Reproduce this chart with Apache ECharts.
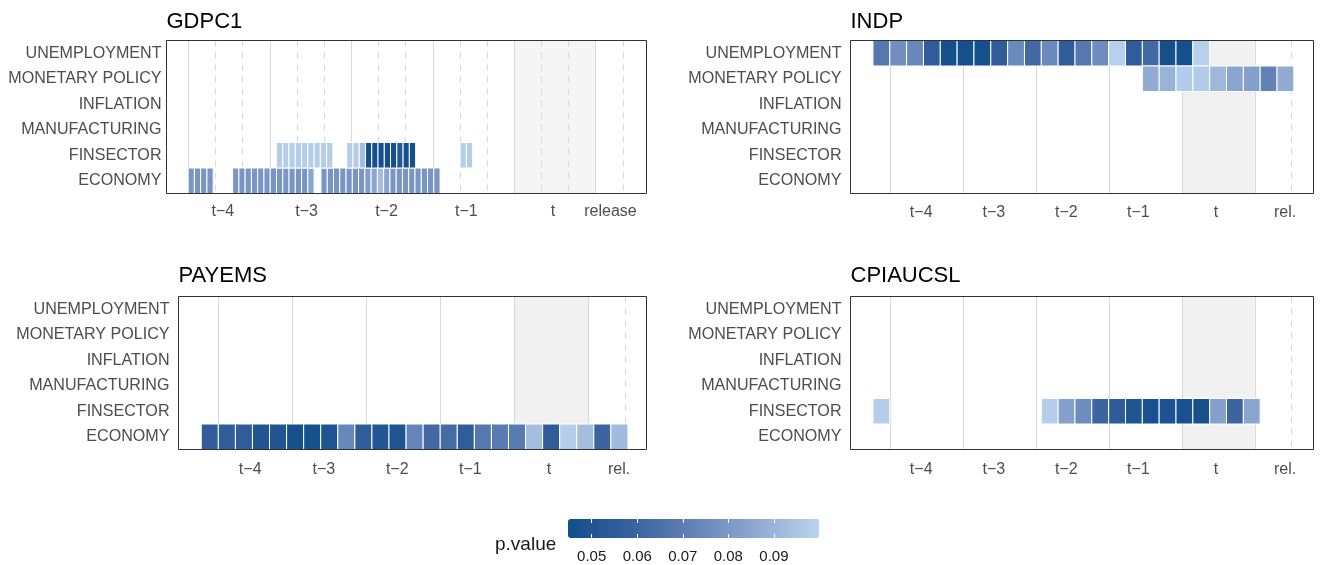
<!DOCTYPE html>
<html><head><meta charset="utf-8">
<script src="https://cdn.jsdelivr.net/npm/echarts@6/dist/echarts.min.js"></script>
<style>html,body{margin:0;padding:0;background:#fff}#chart{width:1325px;height:565px}</style>
</head><body><div id="chart"></div>
<script>
// ---------- DATA ----------
const rows = ['UNEMPLOYMENT', 'MONETARY POLICY', 'INFLATION', 'MANUFACTURING', 'FINSECTOR', 'ECONOMY'];
const panelNames = ['GDPC1', 'INDP', 'PAYEMS', 'CPIAUCSL'];
const periodLabels = ['t\u22124', 't\u22123', 't\u22122', 't\u22121', 't'];
const releaseLabelLong = 'release';
const releaseLabelShort = 'rel.';
// x axis unit = weeks from start of quarter t-4
const quarterLines = [0, 13, 26, 39, 52, 65];
const gdpMonthLines = [4.33, 8.67, 17.33, 21.67, 30.33, 34.67, 43.33, 47.67, 56.33, 60.67, 69.33];
const releaseLine = [71.5];
const currentQuarter = [52, 65];
const gdpLabelPos = [5.55, 18.9, 31.65, 44.4, 58.2, 67.4];
const otherLabelPos = [5.6, 18.55, 31.45, 44.3, 58.1, 70.45];

// GDPC1: weekly tiles
const gdpEconomyStarts = [0, 7.1, 21.2];
const gdpEconomyValues = [
  [0.079, 0.079, 0.079, 0.079],
  [0.079, 0.079, 0.079, 0.079, 0.079, 0.079, 0.079, 0.079, 0.079, 0.079, 0.079, 0.079, 0.085],
  [0.079, 0.079, 0.079, 0.079, 0.079, 0.079, 0.079, 0.082, 0.085, 0.093, 0.085, 0.079, 0.079, 0.079, 0.079, 0.079, 0.079, 0.079, 0.079]
];
const gdpFinStarts = [14.1, 25.3, 43.4];
const gdpFinValues = [
  [0.098, 0.098, 0.098, 0.098, 0.098, 0.098, 0.098, 0.098, 0.098],
  [0.098, 0.098, 0.093, 0.046, 0.046, 0.046, 0.046, 0.046, 0.052, 0.046, 0.046],
  [0.098, 0.098]
];
// INDP: 3-week tiles
const indpUnempStarts = [-3];
const indpUnempValues = [[0.068, 0.077, 0.074, 0.056, 0.046, 0.046, 0.046, 0.056, 0.075, 0.062,
  0.075, 0.056, 0.068, 0.076, 0.099, 0.056, 0.062, 0.046, 0.046, 0.099]];
const indpMonStarts = [45];
const indpMonValues = [[0.087, 0.090, 0.097, 0.097, 0.091, 0.085, 0.083, 0.072, 0.087]];
// PAYEMS
const payEconomyStarts = [-3];
const payEconomyValues = [[0.056, 0.056, 0.056, 0.050, 0.050, 0.046, 0.046, 0.049, 0.074, 0.056,
  0.051, 0.049, 0.073, 0.062, 0.063, 0.056, 0.068, 0.069, 0.069, 0.093, 0.056, 0.098, 0.093, 0.060, 0.092]];
// CPIAUCSL
const cpiFinStarts = [-3, 27];
const cpiFinValues = [[0.098], [0.098, 0.083, 0.076, 0.060, 0.055, 0.050, 0.047, 0.048, 0.047, 0.046, 0.083, 0.060, 0.085]];

// colour scale
const pMin = 0.0448, pMax = 0.0999;
const colorbarTicks = [0.05, 0.06, 0.07, 0.08, 0.09];
const scaleColors = ['#124E8C', '#37619D', '#6383B7', '#8EA8D1', '#BAD4EE'];

// ---------- LAYOUT ----------
const FONT = "'Liberation Sans', Arial, Helvetica, sans-serif";
const panels = [
  { name: panelNames[0], grid: { left: 166.5, top: 40.5, width: 480, height: 153 }, xmin: -3.45, xmax: 73.14, w: 1,
    runs: [{ row: 'ECONOMY', starts: gdpEconomyStarts, values: gdpEconomyValues }, { row: 'FINSECTOR', starts: gdpFinStarts, values: gdpFinValues }],
    dashed: gdpMonthLines, labelPos: gdpLabelPos, labels: periodLabels.concat([releaseLabelLong]), yMargin: 5, xMargin: 10, titleTop: 11 },
  { name: panelNames[1], grid: { left: 850.5, top: 40.5, width: 463, height: 153 }, xmin: -7, xmax: 75.5, w: 3,
    runs: [{ row: 'UNEMPLOYMENT', starts: indpUnempStarts, values: indpUnempValues }, { row: 'MONETARY POLICY', starts: indpMonStarts, values: indpMonValues }],
    dashed: releaseLine, labelPos: otherLabelPos, labels: periodLabels.concat([releaseLabelShort]), yMargin: 9, xMargin: 11.5, titleTop: 11 },
  { name: panelNames[2], grid: { left: 178.5, top: 296.5, width: 468, height: 153 }, xmin: -7, xmax: 75.26, w: 3,
    runs: [{ row: 'ECONOMY', starts: payEconomyStarts, values: payEconomyValues }],
    dashed: releaseLine, labelPos: otherLabelPos, labels: periodLabels.concat([releaseLabelShort]), yMargin: 9, xMargin: 12, titleTop: 265 },
  { name: panelNames[3], grid: { left: 850.5, top: 296.5, width: 463, height: 153 }, xmin: -7, xmax: 75.5, w: 3,
    runs: [{ row: 'FINSECTOR', starts: cpiFinStarts, values: cpiFinValues }],
    dashed: releaseLine, labelPos: otherLabelPos, labels: periodLabels.concat([releaseLabelShort]), yMargin: 9, xMargin: 12, titleTop: 265 }
];

function renderShade(params, api) {
  const cs = params.coordSys;
  const a = api.coord([api.value(0), 0])[0], b = api.coord([api.value(1), 0])[0];
  return { type: 'rect', silent: true, shape: { x: a, y: cs.y, width: b - a, height: cs.height }, style: { fill: api.value(2) === 1 ? '#F5F5F5' : '#F1F1F1' } };
}
function renderGuide(params, api) {
  const cs = params.coordSys;
  const x = Math.round(api.coord([api.value(0), 0])[0]) + 0.5;
  const dashed = api.value(1) === 1;
  return { type: 'line', silent: true, shape: { x1: x, y1: cs.y, x2: x, y2: cs.y + cs.height },
    style: { stroke: '#D9D9D9', lineWidth: 1.1, lineDash: dashed ? [6, 6] : null } };
}
function renderTile(params, api) {
  const row = api.value(2);
  const p0 = api.coord([api.value(0), row]);
  const p1 = api.coord([api.value(1), row]);
  const h = api.size([0, 1])[1];
  const rect = echarts.graphic.clipRectByRect({ x: p0[0], y: p0[1] - h / 2, width: p1[0] - p0[0], height: h }, params.coordSys);
  return rect && { type: 'rect', shape: rect, style: { fill: api.visual('color'), stroke: '#FFFFFF', lineWidth: 1 } };
}

const grids = [], xAxes = [], yAxes = [], series = [], titles = [], tileSeriesIdx = [];
panels.forEach((p, gi) => {
  grids.push(Object.assign({ show: true, borderColor: '#333333', borderWidth: 1, backgroundColor: 'transparent', z: 10 }, p.grid));
  xAxes.push({ type: 'value', gridIndex: gi, min: p.xmin, max: p.xmax, axisLine: { show: false }, axisTick: { show: false }, splitLine: { show: false },
    axisLabel: { customValues: p.labelPos, margin: p.xMargin, color: '#4D4D4D', fontSize: 16, fontFamily: FONT,
      formatter: (v) => { const i = p.labelPos.findIndex(q => Math.abs(q - v) < 1e-6); return i >= 0 ? p.labels[i] : ''; } } });
  yAxes.push({ type: 'category', gridIndex: gi, data: rows, inverse: true, axisLine: { show: false }, axisTick: { show: false }, splitLine: { show: false },
    axisLabel: { margin: p.yMargin, color: '#4D4D4D', fontSize: 16.1, fontFamily: FONT } });
  titles.push({ text: p.name, left: p.grid.left, top: p.titleTop, padding: 0, textStyle: { fontSize: 22, fontWeight: 'normal', color: '#000', fontFamily: FONT } });
  series.push({ type: 'custom', xAxisIndex: gi, yAxisIndex: gi, z: 1, silent: true, renderItem: renderShade,
    encode: { x: [0, 1] }, data: [[currentQuarter[0], currentQuarter[1], gi === 0 ? 1 : 0]] });
  const guides = quarterLines.map(x => [x, 0]).concat(p.dashed.map(x => [x, 1]));
  series.push({ type: 'custom', xAxisIndex: gi, yAxisIndex: gi, z: 2, silent: true, renderItem: renderGuide, encode: { x: 0 }, data: guides });
  const tiles = [];
  p.runs.forEach(r => {
    const ri = rows.indexOf(r.row);
    r.starts.forEach((s, k) => {
      r.values[k].forEach((v, i) => tiles.push([s + i * p.w, s + (i + 1) * p.w, ri, v]));
    });
  });
  tileSeriesIdx.push(series.length);
  series.push({ type: 'custom', name: p.name, xAxisIndex: gi, yAxisIndex: gi, z: 3, renderItem: renderTile,
    dimensions: ['x0', 'x1', 'row', 'p.value'], encode: { x: [0, 1], y: 2 }, data: tiles });
});

// colour bar axes (tick labels)
const cb = { left: 568, top: 519, width: 251, height: 19 };
grids.push(Object.assign({ show: false }, cb));
xAxes.push({ type: 'value', gridIndex: 4, min: pMin, max: pMax, z: 20, axisLine: { show: false }, splitLine: { show: false },
  axisTick: { show: true, inside: true, length: 4, customValues: colorbarTicks, lineStyle: { color: '#FFFFFF', width: 1 } },
  axisLabel: { customValues: colorbarTicks, margin: 11, fontSize: 15, color: '#1A1A1A', fontFamily: FONT, formatter: v => v.toFixed(2) } });
xAxes.push({ type: 'value', gridIndex: 4, position: 'top', min: pMin, max: pMax, z: 20, axisLine: { show: false }, splitLine: { show: false },
  axisTick: { show: true, inside: true, length: 4, customValues: colorbarTicks, lineStyle: { color: '#FFFFFF', width: 1 } },
  axisLabel: { show: false } });
yAxes.push({ type: 'value', gridIndex: 4, show: false, min: 0, max: 1 });
titles.push({ text: 'p.value', left: 495, top: 535, padding: 0, textStyle: { fontSize: 19, fontWeight: 'normal', color: '#1A1A1A', fontFamily: FONT } });

const chart = echarts.init(document.getElementById('chart'), null, { renderer: 'canvas' });
chart.setOption({
  animation: false,
  backgroundColor: '#FFFFFF',
  title: titles,
  grid: grids,
  xAxis: xAxes,
  yAxis: yAxes,
  visualMap: {
    type: 'continuous', min: pMin, max: pMax, dimension: 3, seriesIndex: tileSeriesIdx,
    orient: 'horizontal', left: cb.left - 15, top: cb.top - 15, itemWidth: cb.height, itemHeight: cb.width,
    calculable: false, hoverLink: false, text: null, inRange: { color: scaleColors }, z: 4
  },
  series: series
});
</script></body></html>
